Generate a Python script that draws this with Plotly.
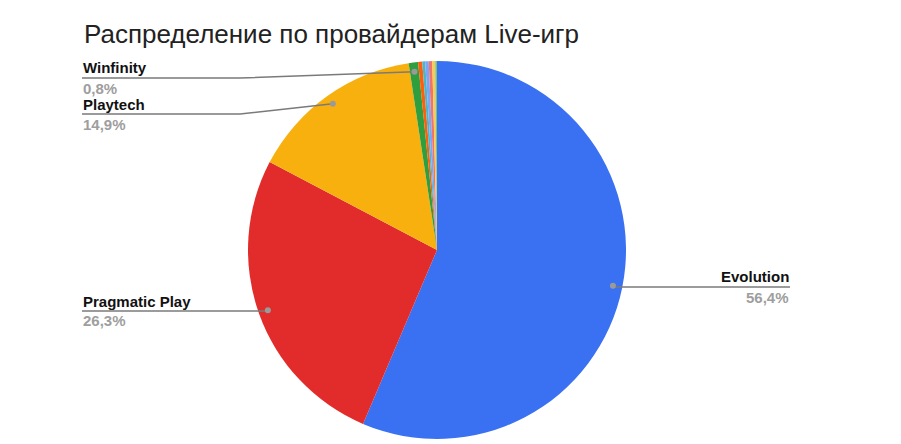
import math
import plotly.graph_objects as go

# ---- data ----
providers = ["Evolution", "Pragmatic Play", "Playtech", "Winfinity",
             "Ezugi", "Authentic Gaming", "LuckyStreak", "Vivo Gaming", "XPG", "Другие"]
shares = [56.4, 26.3, 14.9, 0.8, 0.35, 0.25, 0.3, 0.3, 0.25, 0.15]
colors = ["#3A71F2", "#E22C2B", "#F8B00E", "#2E9E3E", "#FF5E0A",
          "#4DB6C6", "#7BA6F5", "#EF7370", "#F9CC4A", "#71C287"]
labelled = ["Evolution", "Pragmatic Play", "Playtech", "Winfinity"]

# ---- layout constants ----
W, H = 901, 444
CX, CY, R = 437, 250, 189
label_y = {"Evolution": 287, "Pragmatic Play": 311, "Playtech": 114, "Winfinity": 78}
left_x, right_x, elbow_x = 82, 790, 240
FONT = "Liberation Sans, Arial, sans-serif"

fig = go.Figure(go.Pie(
    labels=providers, values=shares, sort=False, direction="clockwise", rotation=0,
    marker=dict(colors=colors, line=dict(width=0)), textinfo="none", showlegend=False,
    domain=dict(x=[(CX - R) / W, (CX + R) / W], y=[1 - (CY + R) / H, 1 - (CY - R) / H]),
    hovertemplate="%{label}: %{value}%<extra></extra>",
))

def px(x, y):
    return x / W, 1 - y / H

total = sum(shares)
cum = 0.0
shapes, annotations = [], []
for name, v in zip(providers, shares):
    mid = (cum + v / 2) / total * 2 * math.pi
    cum += v
    if name not in labelled:
        continue
    dx = CX + 0.95 * R * math.sin(mid)
    dy = CY - 0.95 * R * math.cos(mid)
    ly = label_y[name]
    right = math.sin(mid) > 0
    end_x = right_x if right else left_x
    if abs(ly - dy) > 2:
        pts = [(dx, dy), (elbow_x, ly), (end_x, ly)]
    else:
        pts = [(dx, ly), (end_x, ly)]
    path = "M " + " L ".join(f"{px(a, b)[0]},{px(a, b)[1]}" for a, b in pts)
    shapes.append(dict(type="path", path=path, xref="paper", yref="paper",
                       line=dict(color="#7a7a7a", width=1.5)))
    x0, y0 = px(dx, dy)
    shapes.append(dict(type="circle", xref="paper", yref="paper",
                       x0=x0 - 3 / W, x1=x0 + 3 / W, y0=y0 - 3 / H, y1=y0 + 3 / H,
                       fillcolor="#9a9a9a", line=dict(width=0)))
    ax_, ay_ = px(end_x, ly)
    anchor = "right" if right else "left"
    annotations.append(dict(x=ax_, y=ay_ + 0.5 / H, xref="paper", yref="paper", showarrow=False,
                            text=f"<b>{name}</b>", xanchor=anchor, yanchor="bottom",
                            borderpad=0, font=dict(family=FONT, size=15, color="#111111")))
    pct = f"{v:.1f}".replace(".", ",") + "%"
    annotations.append(dict(x=ax_, y=ay_ - 0.5 / H, xref="paper", yref="paper", showarrow=False,
                            text=f"<b>{pct}</b>", xanchor=anchor, yanchor="top",
                            borderpad=0, font=dict(family=FONT, size=15, color="#9e9e9e")))

fig.update_layout(
    width=W, height=H, margin=dict(l=0, r=0, t=0, b=0),
    paper_bgcolor="white", plot_bgcolor="white",
    title=dict(text="Распределение по провайдерам Live-игр", x=84 / W, xanchor="left",
               y=1 - 34 / H, yanchor="middle",
               font=dict(family=FONT, size=26, color="#222222")),
    shapes=shapes, annotations=annotations,
)

fig.write_html("out.html", config={"displayModeBar": False},
               post_script="document.body.style.margin='0';")
